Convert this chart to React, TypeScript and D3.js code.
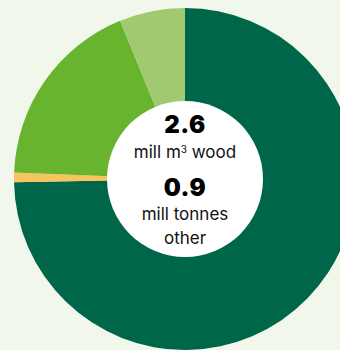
import React from "react";
import * as d3 from "d3";

const categories = ["Wood main", "Other", "Wood B", "Wood C"];
const values = [74.7, 0.9, 18.2, 6.2];
const colors = ["#00664a", "#f7c55c", "#69b42f", "#a0c970"];
const centerValues = ["2.6", "0.9"];
const centerLabels = ["mill m³ wood", "mill tonnes", "other"];

export default function App() {
  const W = 340, H = 350;
  const cx = 185, cy = 179, R = 171, r = 78;
  const pie = d3.pie<number>().sort(null).value((d) => d)(values);
  const arc = d3.arc<d3.PieArcDatum<number>>().innerRadius(r - 2).outerRadius(R);
  const font = "Inter, 'Noto Sans', sans-serif";
  return (
    <div style={{ position: "fixed", left: 0, top: 0 }}>
      <svg width={W} height={H} style={{ display: "block" }}>
        <rect width={W} height={H} fill="#f2f7ec" />
        <g transform={`translate(${cx},${cy})`}>
          {pie.map((p, i) => (
            <path key={categories[i]} d={arc(p) || ""} fill={colors[i]} />
          ))}
          <circle r={r} fill="#ffffff" />
          <text y={-46} textAnchor="middle" fontFamily={font} fontWeight={900} fontSize={24} letterSpacing={0.5} fill="#000">{centerValues[0]}</text>
          <text y={-21} textAnchor="middle" fontFamily={font} fontSize={17} fill="#111">
            mill m<tspan fontSize={10} dy={-5}>3</tspan><tspan dy={5}> wood</tspan>
          </text>
          <text y={17} textAnchor="middle" fontFamily={font} fontWeight={900} fontSize={24} letterSpacing={0.5} fill="#000">{centerValues[1]}</text>
          <text y={41} textAnchor="middle" fontFamily={font} fontSize={17} fill="#111">{centerLabels[1]}</text>
          <text y={65} textAnchor="middle" fontFamily={font} fontSize={17} fill="#111">{centerLabels[2]}</text>
        </g>
      </svg>
    </div>
  );
}
